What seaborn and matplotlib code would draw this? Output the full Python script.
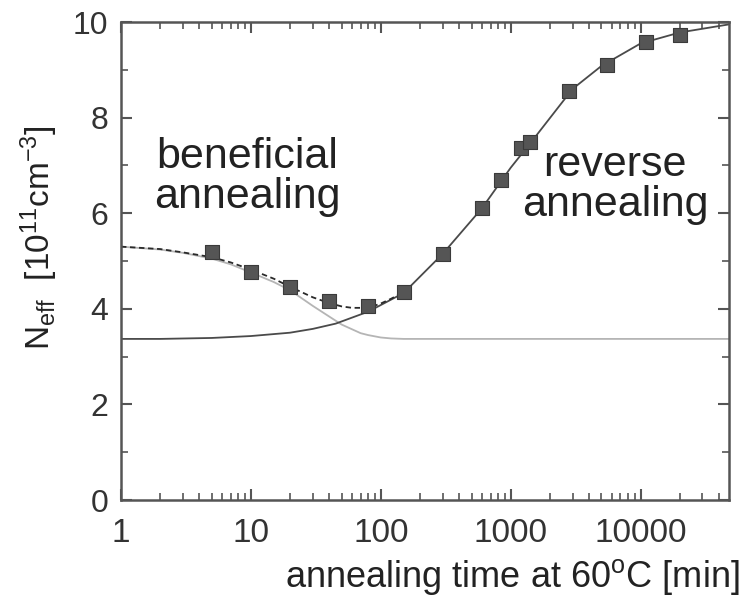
import numpy as np
import pandas as pd
import matplotlib
matplotlib.use("Agg")
import matplotlib.pyplot as plt
import seaborn as sns
from matplotlib.ticker import LogLocator, FixedLocator, NullFormatter

# measured points
t_meas = [5, 10, 20, 40, 80, 150, 300, 600, 850, 1200, 1400, 2800, 5500, 11000, 20000]
n_meas = [5.19, 4.77, 4.46, 4.17, 4.06, 4.35, 5.15, 6.10, 6.70, 7.36, 7.49, 8.56, 9.10, 9.58, 9.73]

# beneficial annealing component (light grey)
t_ben = [1, 2, 3, 5, 7, 10, 15, 20, 30, 40, 50, 70, 80, 100, 120, 150, 200, 500, 48000]
n_ben = [5.30, 5.24, 5.17, 5.05, 4.93, 4.76, 4.56, 4.39, 4.06, 3.84, 3.67, 3.49, 3.45, 3.40, 3.38, 3.37, 3.37, 3.37, 3.37]

# reverse annealing component (dark)
t_rev = [1, 2, 5, 10, 20, 30, 45, 80, 150, 300, 600, 1000, 1500, 3000, 5000, 10000, 20000, 48000]
n_rev = [3.37, 3.37, 3.39, 3.43, 3.50, 3.58, 3.69, 3.94, 4.33, 5.15, 6.10, 6.95, 7.55, 8.60, 9.08, 9.55, 9.78, 9.95]

# total fit (dashed) in beneficial region
t_tot = [1, 2, 3, 5, 7, 10, 15, 20, 30, 40, 50, 60, 80, 100, 120, 150]
n_tot = [5.30, 5.25, 5.18, 5.08, 4.97, 4.82, 4.63, 4.46, 4.24, 4.12, 4.05, 4.02, 4.02, 4.11, 4.21, 4.35]

sns.set_theme(style="ticks")
plt.rcParams["font.family"] = ["Liberation Sans", "DejaVu Sans"]
plt.rcParams["mathtext.fontset"] = "custom"
plt.rcParams["mathtext.rm"] = "Liberation Sans"
plt.rcParams["mathtext.it"] = "Liberation Sans"

fig = plt.figure(figsize=(7.41, 6.0), dpi=100)
ax = fig.add_axes([121/741, 100/600, 608/741, 478/600])

dark = "#4a4a4a"
sns.lineplot(x=t_ben, y=n_ben, ax=ax, color="#b5b5b5", lw=1.3, estimator=None, sort=False)
sns.lineplot(x=t_rev, y=n_rev, ax=ax, color=dark, lw=1.3, estimator=None, sort=False)
sns.lineplot(x=t_tot, y=n_tot, ax=ax, color="#2a2a2a", lw=1.3, estimator=None, sort=False,
             linestyle=(0, (3, 2)))
sns.scatterplot(x=t_meas, y=n_meas, ax=ax, marker="s", s=95, color="#555555",
                edgecolor="#3a3a3a", linewidth=0.8, zorder=5)

ax.set_xscale("log")
ax.set_xlim(1, 48000)
ax.set_ylim(0, 10)

ax.xaxis.set_major_locator(FixedLocator([1, 10, 100, 1000, 10000]))
ax.set_xticklabels(["1", "10", "100", "1000", "10000"])
ax.xaxis.set_minor_locator(LogLocator(base=10, subs=np.arange(2, 10), numticks=20))
ax.xaxis.set_minor_formatter(NullFormatter())
ax.set_yticks([0, 2, 4, 6, 8, 10])
ax.set_yticks([1, 3, 5, 7, 9], minor=True)

spine_c = "#555555"
for s in ax.spines.values():
    s.set_visible(True)
    s.set_linewidth(1.8)
    s.set_color(spine_c)

ax.tick_params(which="both", direction="in", top=True, right=True, color=spine_c)
ax.tick_params(which="major", length=8, width=1.5)
ax.tick_params(which="minor", length=5, width=1.2)
ax.tick_params(axis="x", which="major", labelsize=24, pad=13, labelcolor="#333333")
ax.tick_params(axis="y", which="major", labelsize=23, pad=9, labelcolor="#333333")

ax.set_xlabel("annealing time at 60$^{\\rm o}$C [min]", fontsize=26, color="#222222",
              ha="right", va="center")
ax.xaxis.set_label_coords((740-121)/608, (500-577)/478)
ax.set_ylabel("N$_{\\rm eff}$  [10$^{11}$cm$^{-3}$]", fontsize=24, color="#222222",
              ha="center", va="center")
ax.yaxis.set_label_coords((39-121)/608, (500-238)/478)

ax.text((247-121)/608, (500-177)/478, "beneficial\nannealing", transform=ax.transAxes,
        fontsize=31, color="#222222", ha="center", va="center", linespacing=1.0)
ax.text((615-121)/608, (500-185)/478, "reverse\nannealing", transform=ax.transAxes,
        fontsize=31, color="#222222", ha="center", va="center", linespacing=1.0)

fig.savefig("out.png", dpi=100)
